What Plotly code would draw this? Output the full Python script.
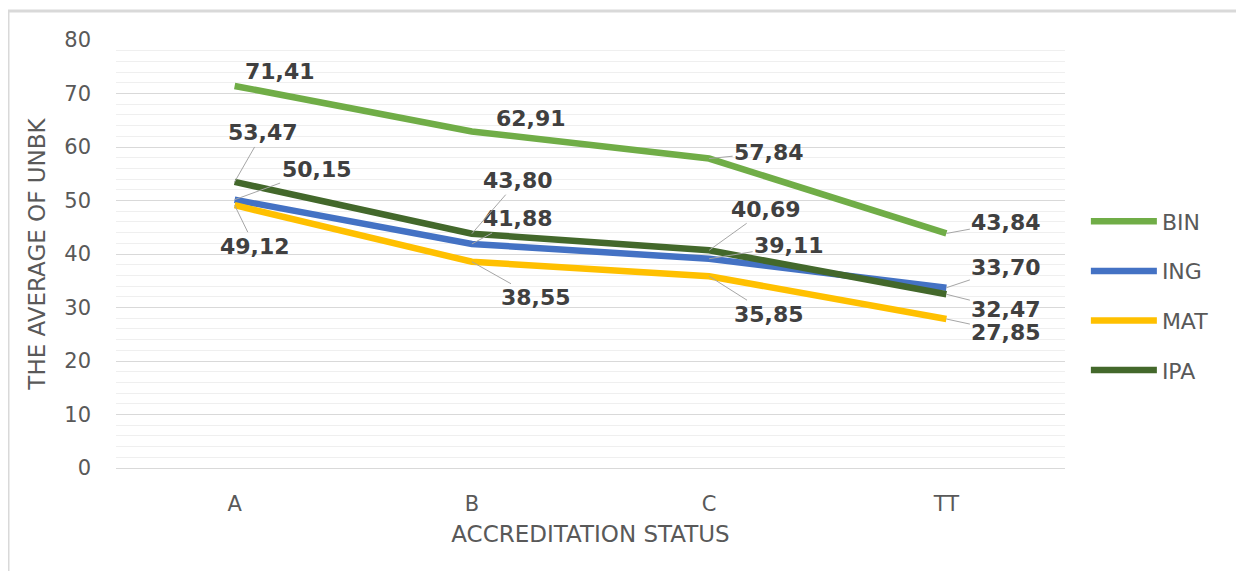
import plotly.graph_objects as go

categories = ["A", "B", "C", "TT"]
series_names = ["BIN", "ING", "MAT", "IPA"]
bin_vals = [71.41, 62.91, 57.84, 43.84]
ing_vals = [50.15, 41.88, 39.11, 33.70]
mat_vals = [49.12, 38.55, 35.85, 27.85]
ipa_vals = [53.47, 43.80, 40.69, 32.47]
y_ticks = [0, 10, 20, 30, 40, 50, 60, 70, 80]

colors = {"BIN": "#70AD47", "ING": "#4472C4", "MAT": "#FFC000", "IPA": "#43682B"}
values = {"BIN": bin_vals, "ING": ing_vals, "MAT": mat_vals, "IPA": ipa_vals}

# label offsets in pixels (dx, dy) and whether a leader line is drawn
label_offsets = {
    "BIN": [(45, -14, False), (59, -13, False), (60, -6, True), (60, -11, True)],
    "ING": [(82, -30, True), (46, -25, True), (80, -13, True), (60, -20, True)],
    "MAT": [(20, 41, True), (64, 36, True), (60, 38, True), (60, 13, True)],
    "IPA": [(28, -49, True), (46, -53, True), (57, -41, True), (60, 15, True)],
}

TICK_FONT = dict(family="DejaVu Sans", size=21, color="#595959")
TITLE_FONT = dict(family="DejaVu Sans", size=23, color="#595959")
LEGEND_FONT = dict(family="DejaVu Sans", size=22, color="#595959")

fig = go.Figure()
for i, name in enumerate(series_names):
    fig.add_trace(go.Scatter(
        x=categories, y=values[name], mode="lines", name=name,
        line=dict(color=colors[name], width=6.5),
        legendgroup=name,
    ))

annotations = []
for name in series_names:
    for cat, v, (dx, dy, leader) in zip(categories, values[name], label_offsets[name]):
        annotations.append(dict(
            x=cat, y=v, xref="x", yref="y",
            text=f"{v:.2f}".replace(".", ","),
            showarrow=True, ax=dx, ay=dy,
            arrowhead=0, arrowwidth=1,
            arrowcolor="#A6A6A6" if leader else "rgba(0,0,0,0)",
            standoff=0, startstandoff=0,
            font=dict(family="DejaVu Sans", size=22, color="#404040", weight="bold"),
        ))

fig.update_layout(
    width=1228, height=563,
    margin=dict(l=108, r=171, t=32, b=103),
    paper_bgcolor="white", plot_bgcolor="white",
    annotations=annotations,
    showlegend=True,
    legend=dict(
        x=1.022, y=0.625, xanchor="left", yanchor="top",
        font=LEGEND_FONT,
        tracegroupgap=18, traceorder="grouped",
        itemwidth=66,
        bgcolor="rgba(0,0,0,0)",
    ),
    shapes=[
        dict(type="line", xref="paper", yref="paper", x0=-0.1138, x1=-0.1138, y0=-0.25, y1=1.0678,
             line=dict(color="#D9D9D9", width=3)),
        dict(type="line", xref="paper", yref="paper", x0=-0.1138, x1=1.19, y0=1.0678, y1=1.0678,
             line=dict(color="#D9D9D9", width=3)),
    ],
)

fig.update_xaxes(
    type="category", range=[-0.5, 3.5],
    showgrid=False, zeroline=False, showline=False, ticks="",
    ticklabelstandoff=21,
    tickfont=TICK_FONT,
    title=dict(text="ACCREDITATION STATUS", standoff=10, font=TITLE_FONT),
)
fig.update_yaxes(
    range=[0, 80], tickvals=y_ticks,
    showgrid=True, gridcolor="#D9D9D9", gridwidth=1,
    zeroline=True, zerolinecolor="#D9D9D9", zerolinewidth=1,
    showline=False, ticks="",
    ticklabelstandoff=24,
    tickfont=TICK_FONT,
    minor=dict(dtick=2, showgrid=True, gridcolor="#EFEFEF", gridwidth=1),
    title=dict(text="THE AVERAGE OF UNBK", standoff=12, font=TITLE_FONT),
)

fig.write_html("out.html")
